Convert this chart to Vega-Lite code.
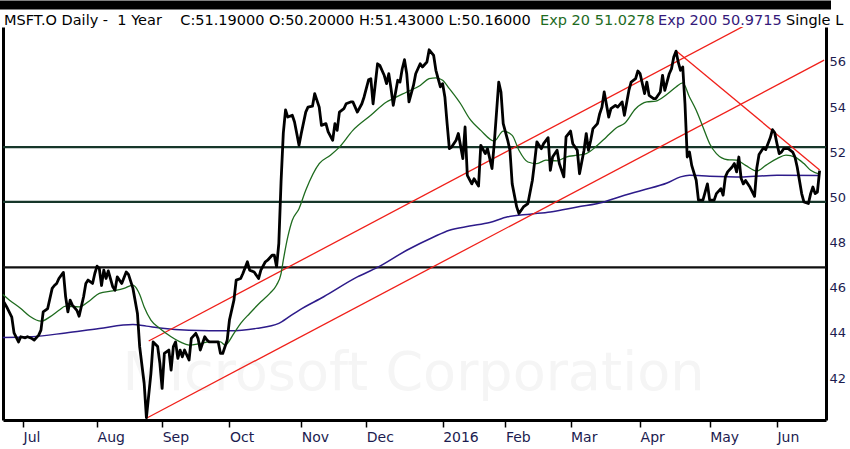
{
  "$schema": "https://vega.github.io/schema/vega-lite/v6.json",
  "description": "MSFT.O daily closing price over one year with 20 and 200 day exponential averages, trend channel and support levels.",
  "width": 823,
  "height": 393,
  "autosize": {"type": "none"},
  "padding": {"left": 3, "top": 27, "right": 24, "bottom": 29},
  "background": "white",
  "config": {
    "view": {"stroke": null},
    "font": "DejaVu Sans",
    "axis": {"grid": false, "title": null}
  },
  "datasets": {
    "price": [
      {"date": "2015-06-22", "close": 45.45}, {"date": "2015-06-24", "close": 45.10}, {"date": "2015-06-26", "close": 44.70},
      {"date": "2015-06-27", "close": 44.00}, {"date": "2015-06-29", "close": 43.60}, {"date": "2015-06-30", "close": 43.83},
      {"date": "2015-07-02", "close": 43.78}, {"date": "2015-07-03", "close": 43.83}, {"date": "2015-07-05", "close": 43.75},
      {"date": "2015-07-06", "close": 43.68}, {"date": "2015-07-08", "close": 43.90}, {"date": "2015-07-09", "close": 44.12},
      {"date": "2015-07-10", "close": 44.93}, {"date": "2015-07-12", "close": 45.08}, {"date": "2015-07-14", "close": 45.97},
      {"date": "2015-07-15", "close": 46.10}, {"date": "2015-07-16", "close": 46.19}, {"date": "2015-07-17", "close": 46.41},
      {"date": "2015-07-19", "close": 46.68}, {"date": "2015-07-20", "close": 45.60}, {"date": "2015-07-21", "close": 44.93},
      {"date": "2015-07-22", "close": 45.45}, {"date": "2015-07-23", "close": 45.23}, {"date": "2015-07-25", "close": 45.00},
      {"date": "2015-07-26", "close": 44.74}, {"date": "2015-07-28", "close": 45.60}, {"date": "2015-07-29", "close": 46.19},
      {"date": "2015-07-30", "close": 46.34}, {"date": "2015-08-01", "close": 46.19}, {"date": "2015-08-02", "close": 46.63},
      {"date": "2015-08-03", "close": 46.96}, {"date": "2015-08-04", "close": 46.85}, {"date": "2015-08-05", "close": 46.10},
      {"date": "2015-08-06", "close": 46.78}, {"date": "2015-08-07", "close": 46.41}, {"date": "2015-08-08", "close": 46.75},
      {"date": "2015-08-10", "close": 46.04}, {"date": "2015-08-11", "close": 45.89}, {"date": "2015-08-12", "close": 46.48},
      {"date": "2015-08-14", "close": 46.19}, {"date": "2015-08-16", "close": 46.70}, {"date": "2015-08-17", "close": 46.59},
      {"date": "2015-08-19", "close": 45.97}, {"date": "2015-08-21", "close": 44.86}, {"date": "2015-08-22", "close": 43.38},
      {"date": "2015-08-24", "close": 41.76}, {"date": "2015-08-25", "close": 40.25}, {"date": "2015-08-27", "close": 42.20},
      {"date": "2015-08-28", "close": 43.60}, {"date": "2015-08-30", "close": 43.40}, {"date": "2015-08-31", "close": 42.65},
      {"date": "2015-09-01", "close": 41.54}, {"date": "2015-09-02", "close": 43.09}, {"date": "2015-09-04", "close": 43.24},
      {"date": "2015-09-05", "close": 42.35}, {"date": "2015-09-06", "close": 43.39}, {"date": "2015-09-07", "close": 43.60},
      {"date": "2015-09-08", "close": 42.87}, {"date": "2015-09-09", "close": 43.24}, {"date": "2015-09-10", "close": 42.94},
      {"date": "2015-09-11", "close": 43.24}, {"date": "2015-09-13", "close": 42.80}, {"date": "2015-09-14", "close": 43.76},
      {"date": "2015-09-16", "close": 43.98}, {"date": "2015-09-17", "close": 43.76}, {"date": "2015-09-18", "close": 43.24},
      {"date": "2015-09-20", "close": 43.83}, {"date": "2015-09-21", "close": 43.68}, {"date": "2015-09-22", "close": 43.60},
      {"date": "2015-09-24", "close": 43.60}, {"date": "2015-09-26", "close": 43.60}, {"date": "2015-09-27", "close": 43.09},
      {"date": "2015-09-28", "close": 43.09}, {"date": "2015-09-30", "close": 43.68}, {"date": "2015-10-01", "close": 44.57},
      {"date": "2015-10-03", "close": 45.45}, {"date": "2015-10-04", "close": 46.34}, {"date": "2015-10-06", "close": 46.41},
      {"date": "2015-10-07", "close": 46.63}, {"date": "2015-10-09", "close": 47.15}, {"date": "2015-10-10", "close": 46.78},
      {"date": "2015-10-12", "close": 46.70}, {"date": "2015-10-14", "close": 46.41}, {"date": "2015-10-15", "close": 46.78},
      {"date": "2015-10-17", "close": 47.15}, {"date": "2015-10-18", "close": 47.22}, {"date": "2015-10-20", "close": 47.44},
      {"date": "2015-10-21", "close": 47.44}, {"date": "2015-10-22", "close": 46.93}, {"date": "2015-10-23", "close": 47.96},
      {"date": "2015-10-24", "close": 50.70}, {"date": "2015-10-25", "close": 52.85}, {"date": "2015-10-26", "close": 53.88},
      {"date": "2015-10-27", "close": 53.56}, {"date": "2015-10-29", "close": 53.64}, {"date": "2015-10-30", "close": 53.34},
      {"date": "2015-10-31", "close": 52.83}, {"date": "2015-11-01", "close": 52.31}, {"date": "2015-11-02", "close": 52.83},
      {"date": "2015-11-04", "close": 53.78}, {"date": "2015-11-05", "close": 54.00}, {"date": "2015-11-07", "close": 54.04},
      {"date": "2015-11-08", "close": 54.60}, {"date": "2015-11-10", "close": 54.00}, {"date": "2015-11-11", "close": 53.19},
      {"date": "2015-11-13", "close": 53.27}, {"date": "2015-11-14", "close": 52.90}, {"date": "2015-11-16", "close": 52.53},
      {"date": "2015-11-17", "close": 53.27}, {"date": "2015-11-18", "close": 52.97}, {"date": "2015-11-19", "close": 53.78},
      {"date": "2015-11-21", "close": 53.93}, {"date": "2015-11-22", "close": 54.15}, {"date": "2015-11-24", "close": 54.23},
      {"date": "2015-11-25", "close": 54.23}, {"date": "2015-11-27", "close": 53.78}, {"date": "2015-11-29", "close": 54.15},
      {"date": "2015-11-30", "close": 54.45}, {"date": "2015-12-02", "close": 55.21}, {"date": "2015-12-03", "close": 55.26},
      {"date": "2015-12-04", "close": 54.15}, {"date": "2015-12-06", "close": 55.92}, {"date": "2015-12-07", "close": 55.85},
      {"date": "2015-12-09", "close": 55.40}, {"date": "2015-12-10", "close": 55.04}, {"date": "2015-12-11", "close": 55.48},
      {"date": "2015-12-12", "close": 54.82}, {"date": "2015-12-13", "close": 54.08}, {"date": "2015-12-15", "close": 55.19},
      {"date": "2015-12-16", "close": 55.11}, {"date": "2015-12-17", "close": 55.70}, {"date": "2015-12-18", "close": 56.10},
      {"date": "2015-12-19", "close": 55.48}, {"date": "2015-12-20", "close": 54.23}, {"date": "2015-12-22", "close": 54.96},
      {"date": "2015-12-23", "close": 55.48}, {"date": "2015-12-25", "close": 55.92}, {"date": "2015-12-26", "close": 55.78},
      {"date": "2015-12-28", "close": 56.00}, {"date": "2015-12-29", "close": 56.54}, {"date": "2015-12-31", "close": 56.29},
      {"date": "2016-01-01", "close": 55.63}, {"date": "2016-01-03", "close": 54.90}, {"date": "2016-01-04", "close": 55.04},
      {"date": "2016-01-05", "close": 54.45}, {"date": "2016-01-06", "close": 53.27}, {"date": "2016-01-07", "close": 52.16},
      {"date": "2016-01-08", "close": 52.23}, {"date": "2016-01-10", "close": 52.53}, {"date": "2016-01-11", "close": 52.83},
      {"date": "2016-01-13", "close": 51.72}, {"date": "2016-01-14", "close": 53.12}, {"date": "2016-01-15", "close": 50.98},
      {"date": "2016-01-17", "close": 50.60}, {"date": "2016-01-18", "close": 50.83}, {"date": "2016-01-20", "close": 50.50},
      {"date": "2016-01-21", "close": 52.31}, {"date": "2016-01-23", "close": 51.94}, {"date": "2016-01-24", "close": 52.16},
      {"date": "2016-01-26", "close": 51.28}, {"date": "2016-01-27", "close": 52.38}, {"date": "2016-01-29", "close": 55.11},
      {"date": "2016-01-30", "close": 54.67}, {"date": "2016-01-31", "close": 53.27}, {"date": "2016-02-02", "close": 52.53},
      {"date": "2016-02-03", "close": 52.09}, {"date": "2016-02-04", "close": 50.60}, {"date": "2016-02-06", "close": 49.58},
      {"date": "2016-02-07", "close": 49.29}, {"date": "2016-02-09", "close": 49.58}, {"date": "2016-02-11", "close": 49.73},
      {"date": "2016-02-13", "close": 50.76}, {"date": "2016-02-14", "close": 51.57}, {"date": "2016-02-15", "close": 52.46},
      {"date": "2016-02-17", "close": 52.16}, {"date": "2016-02-18", "close": 52.38}, {"date": "2016-02-20", "close": 52.65},
      {"date": "2016-02-21", "close": 51.20}, {"date": "2016-02-22", "close": 51.79}, {"date": "2016-02-24", "close": 52.09},
      {"date": "2016-02-25", "close": 51.50}, {"date": "2016-02-27", "close": 50.91}, {"date": "2016-02-28", "close": 52.68},
      {"date": "2016-03-01", "close": 52.94}, {"date": "2016-03-02", "close": 52.38}, {"date": "2016-03-04", "close": 52.09},
      {"date": "2016-03-05", "close": 51.05}, {"date": "2016-03-07", "close": 52.09}, {"date": "2016-03-08", "close": 52.83},
      {"date": "2016-03-09", "close": 52.09}, {"date": "2016-03-10", "close": 52.53}, {"date": "2016-03-11", "close": 53.05},
      {"date": "2016-03-13", "close": 53.27}, {"date": "2016-03-14", "close": 53.71}, {"date": "2016-03-15", "close": 54.00},
      {"date": "2016-03-16", "close": 54.67}, {"date": "2016-03-18", "close": 53.56}, {"date": "2016-03-19", "close": 53.93},
      {"date": "2016-03-21", "close": 54.08}, {"date": "2016-03-22", "close": 54.00}, {"date": "2016-03-24", "close": 54.23},
      {"date": "2016-03-25", "close": 53.64}, {"date": "2016-03-27", "close": 54.74}, {"date": "2016-03-28", "close": 55.11},
      {"date": "2016-03-30", "close": 55.26}, {"date": "2016-03-31", "close": 55.60}, {"date": "2016-04-01", "close": 55.48},
      {"date": "2016-04-03", "close": 54.60}, {"date": "2016-04-04", "close": 55.11}, {"date": "2016-04-05", "close": 54.52},
      {"date": "2016-04-07", "close": 54.38}, {"date": "2016-04-08", "close": 54.38}, {"date": "2016-04-10", "close": 54.67},
      {"date": "2016-04-11", "close": 55.41}, {"date": "2016-04-12", "close": 54.74}, {"date": "2016-04-14", "close": 55.48},
      {"date": "2016-04-15", "close": 55.70}, {"date": "2016-04-16", "close": 56.22}, {"date": "2016-04-17", "close": 56.48},
      {"date": "2016-04-18", "close": 55.99}, {"date": "2016-04-19", "close": 55.63}, {"date": "2016-04-20", "close": 55.78},
      {"date": "2016-04-21", "close": 54.15}, {"date": "2016-04-22", "close": 51.79}, {"date": "2016-04-23", "close": 52.01},
      {"date": "2016-04-24", "close": 51.42}, {"date": "2016-04-26", "close": 50.76}, {"date": "2016-04-27", "close": 49.88},
      {"date": "2016-04-29", "close": 49.88}, {"date": "2016-05-01", "close": 50.60}, {"date": "2016-05-02", "close": 49.88},
      {"date": "2016-05-04", "close": 49.88}, {"date": "2016-05-05", "close": 50.17}, {"date": "2016-05-07", "close": 50.39},
      {"date": "2016-05-08", "close": 50.10}, {"date": "2016-05-09", "close": 50.91}, {"date": "2016-05-10", "close": 51.13},
      {"date": "2016-05-12", "close": 51.35}, {"date": "2016-05-13", "close": 51.50}, {"date": "2016-05-14", "close": 51.13},
      {"date": "2016-05-15", "close": 51.79}, {"date": "2016-05-16", "close": 50.85}, {"date": "2016-05-17", "close": 50.60},
      {"date": "2016-05-18", "close": 50.75}, {"date": "2016-05-20", "close": 50.45}, {"date": "2016-05-22", "close": 50.05},
      {"date": "2016-05-23", "close": 51.30}, {"date": "2016-05-24", "close": 51.90}, {"date": "2016-05-26", "close": 52.20},
      {"date": "2016-05-27", "close": 52.12}, {"date": "2016-05-29", "close": 52.64}, {"date": "2016-05-30", "close": 53.00},
      {"date": "2016-05-31", "close": 52.86}, {"date": "2016-06-01", "close": 52.38}, {"date": "2016-06-02", "close": 51.94},
      {"date": "2016-06-03", "close": 52.01}, {"date": "2016-06-04", "close": 52.16}, {"date": "2016-06-06", "close": 52.16},
      {"date": "2016-06-08", "close": 52.01}, {"date": "2016-06-09", "close": 51.79}, {"date": "2016-06-10", "close": 51.35},
      {"date": "2016-06-11", "close": 50.76}, {"date": "2016-06-12", "close": 50.17}, {"date": "2016-06-13", "close": 49.80},
      {"date": "2016-06-15", "close": 49.73}, {"date": "2016-06-16", "close": 50.17}, {"date": "2016-06-17", "close": 50.46},
      {"date": "2016-06-18", "close": 50.17}, {"date": "2016-06-19", "close": 50.24}, {"date": "2016-06-20", "close": 51.19}
    ],
    "ema20": [
      {"date": "2015-06-22", "value": 45.70}, {"date": "2015-06-25", "value": 45.45}, {"date": "2015-06-30", "value": 45.08},
      {"date": "2015-07-04", "value": 44.74}, {"date": "2015-07-09", "value": 44.52}, {"date": "2015-07-13", "value": 44.71},
      {"date": "2015-07-17", "value": 45.00}, {"date": "2015-07-20", "value": 45.19}, {"date": "2015-07-26", "value": 45.15},
      {"date": "2015-07-31", "value": 45.45}, {"date": "2015-08-04", "value": 45.75}, {"date": "2015-08-10", "value": 45.86},
      {"date": "2015-08-15", "value": 45.97}, {"date": "2015-08-19", "value": 46.12}, {"date": "2015-08-20", "value": 46.05},
      {"date": "2015-08-22", "value": 45.70}, {"date": "2015-08-24", "value": 45.15}, {"date": "2015-08-27", "value": 44.57},
      {"date": "2015-08-31", "value": 44.20}, {"date": "2015-09-05", "value": 43.83}, {"date": "2015-09-09", "value": 43.60},
      {"date": "2015-09-13", "value": 43.46}, {"date": "2015-09-18", "value": 43.53}, {"date": "2015-09-22", "value": 43.60},
      {"date": "2015-09-27", "value": 43.60}, {"date": "2015-09-29", "value": 43.46}, {"date": "2015-10-03", "value": 43.98},
      {"date": "2015-10-06", "value": 44.42}, {"date": "2015-10-10", "value": 44.86}, {"date": "2015-10-15", "value": 45.38},
      {"date": "2015-10-19", "value": 45.75}, {"date": "2015-10-22", "value": 46.12}, {"date": "2015-10-24", "value": 46.63},
      {"date": "2015-10-25", "value": 47.22}, {"date": "2015-10-27", "value": 48.25}, {"date": "2015-10-29", "value": 48.99},
      {"date": "2015-11-01", "value": 49.50}, {"date": "2015-11-04", "value": 50.32}, {"date": "2015-11-10", "value": 51.50},
      {"date": "2015-11-15", "value": 51.87}, {"date": "2015-11-19", "value": 52.23}, {"date": "2015-11-25", "value": 52.97},
      {"date": "2015-12-03", "value": 53.64}, {"date": "2015-12-10", "value": 54.23}, {"date": "2015-12-13", "value": 54.38},
      {"date": "2015-12-19", "value": 54.67}, {"date": "2015-12-25", "value": 54.96}, {"date": "2015-12-29", "value": 55.26},
      {"date": "2016-01-01", "value": 55.30}, {"date": "2016-01-04", "value": 55.19}, {"date": "2016-01-07", "value": 54.82},
      {"date": "2016-01-12", "value": 54.15}, {"date": "2016-01-16", "value": 53.49}, {"date": "2016-01-21", "value": 52.97},
      {"date": "2016-01-27", "value": 52.50}, {"date": "2016-01-31", "value": 52.94}, {"date": "2016-02-04", "value": 52.75},
      {"date": "2016-02-07", "value": 52.09}, {"date": "2016-02-11", "value": 51.57}, {"date": "2016-02-15", "value": 51.50},
      {"date": "2016-02-19", "value": 51.65}, {"date": "2016-02-24", "value": 51.62}, {"date": "2016-02-28", "value": 51.79},
      {"date": "2016-03-04", "value": 51.87}, {"date": "2016-03-08", "value": 51.94}, {"date": "2016-03-13", "value": 52.31},
      {"date": "2016-03-17", "value": 52.68}, {"date": "2016-03-22", "value": 53.12}, {"date": "2016-03-25", "value": 53.27},
      {"date": "2016-03-30", "value": 53.93}, {"date": "2016-04-04", "value": 54.23}, {"date": "2016-04-08", "value": 54.27},
      {"date": "2016-04-13", "value": 54.57}, {"date": "2016-04-17", "value": 54.89}, {"date": "2016-04-20", "value": 55.07},
      {"date": "2016-04-23", "value": 54.45}, {"date": "2016-04-26", "value": 53.86}, {"date": "2016-04-29", "value": 53.12},
      {"date": "2016-05-02", "value": 52.38}, {"date": "2016-05-05", "value": 51.94}, {"date": "2016-05-10", "value": 51.67},
      {"date": "2016-05-14", "value": 51.65}, {"date": "2016-05-18", "value": 51.42}, {"date": "2016-05-23", "value": 51.17},
      {"date": "2016-05-27", "value": 51.42}, {"date": "2016-06-01", "value": 51.72}, {"date": "2016-06-05", "value": 51.87},
      {"date": "2016-06-09", "value": 51.79}, {"date": "2016-06-13", "value": 51.50}, {"date": "2016-06-16", "value": 51.20},
      {"date": "2016-06-20", "value": 51.03}
    ],
    "ema200": [
      {"date": "2015-06-22", "value": 43.80}, {"date": "2015-07-05", "value": 43.83}, {"date": "2015-07-20", "value": 44.00},
      {"date": "2015-08-04", "value": 44.20}, {"date": "2015-08-19", "value": 44.37}, {"date": "2015-08-25", "value": 44.30},
      {"date": "2015-08-31", "value": 44.22}, {"date": "2015-09-13", "value": 44.12}, {"date": "2015-10-01", "value": 44.09},
      {"date": "2015-10-13", "value": 44.20}, {"date": "2015-10-23", "value": 44.42}, {"date": "2015-10-28", "value": 44.74},
      {"date": "2015-11-01", "value": 45.00}, {"date": "2015-11-12", "value": 45.60}, {"date": "2015-11-27", "value": 46.48},
      {"date": "2015-12-06", "value": 46.90}, {"date": "2015-12-19", "value": 47.66}, {"date": "2015-12-31", "value": 48.25},
      {"date": "2016-01-07", "value": 48.55}, {"date": "2016-01-16", "value": 48.73}, {"date": "2016-01-25", "value": 48.89},
      {"date": "2016-02-02", "value": 49.14}, {"date": "2016-02-12", "value": 49.26}, {"date": "2016-02-21", "value": 49.36},
      {"date": "2016-03-04", "value": 49.58}, {"date": "2016-03-16", "value": 49.80}, {"date": "2016-03-22", "value": 50.00},
      {"date": "2016-04-02", "value": 50.32}, {"date": "2016-04-13", "value": 50.64}, {"date": "2016-04-19", "value": 50.91},
      {"date": "2016-04-23", "value": 50.98}, {"date": "2016-05-02", "value": 50.94}, {"date": "2016-05-17", "value": 50.91},
      {"date": "2016-06-01", "value": 50.98}, {"date": "2016-06-20", "value": 50.97}
    ],
    "trend": [
      {"line": "channel top", "date": "2015-08-26", "value": 43.64},
      {"line": "channel top", "date": "2016-05-25", "value": 58.00},
      {"line": "channel bottom", "date": "2015-08-25", "value": 40.22},
      {"line": "channel bottom", "date": "2016-06-22", "value": 56.08},
      {"line": "downtrend", "date": "2016-04-17", "value": 56.50},
      {"line": "downtrend", "date": "2016-06-20", "value": 51.22}
    ],
    "levels": [
      {"kind": "resistance", "level": 52.23},
      {"kind": "support", "level": 49.80},
      {"kind": "old resistance", "level": 46.90}
    ],
    "note": [{}]
  },
  "layer": [
    {
      "data": {"name": "note"},
      "mark": {"type": "text", "text": "Microsoft Corporation", "fontSize": 54, "color": "#f5f5f5", "align": "center", "baseline": "alphabetic"},
      "encoding": {
        "x": {"datum": {"year": 2015, "month": 12, "date": 22, "utc": true}, "type": "temporal", "axis": null},
        "y": {"datum": 41.47, "type": "quantitative", "axis": null}
      }
    },
    {
      "data": {"name": "levels"},
      "mark": {"type": "rule"},
      "encoding": {
        "y": {"field": "level", "type": "quantitative", "axis": null},
        "color": {"field": "kind", "type": "nominal", "legend": null,
          "scale": {"domain": ["resistance", "support", "old resistance"], "range": ["#16362a", "#16362a", "#111111"]}},
        "strokeWidth": {"field": "kind", "type": "nominal", "legend": null,
          "scale": {"domain": ["resistance", "support", "old resistance"], "range": [2.2, 2.2, 1.6]}}
      }
    },
    {
      "data": {"name": "ema200"},
      "mark": {"type": "line", "color": "#2d1b8a", "strokeWidth": 1.5, "interpolate": "monotone"},
      "encoding": {
        "x": {"field": "date", "type": "temporal",
          "axis": {"orient": "top", "labels": false, "ticks": false, "domainColor": "black", "domainWidth": 9, "domainCap": "square", "offset": 22.5}},
        "y": {"field": "value", "type": "quantitative",
          "axis": {"orient": "left", "labels": false, "ticks": false, "domainColor": "black", "domainWidth": 3}}
      }
    },
    {
      "data": {"name": "trend"},
      "mark": {"type": "line", "color": "#f0201a", "strokeWidth": 1.3, "clip": true},
      "encoding": {
        "x": {"field": "date", "type": "temporal", "axis": null},
        "y": {"field": "value", "type": "quantitative", "axis": null},
        "detail": {"field": "line", "type": "nominal"}
      }
    },
    {
      "data": {"name": "ema20"},
      "mark": {"type": "line", "color": "#1e6b1e", "strokeWidth": 1.3, "interpolate": "monotone"},
      "encoding": {
        "x": {"field": "date", "type": "temporal", "axis": null},
        "y": {"field": "value", "type": "quantitative", "axis": null}
      }
    },
    {
      "data": {"name": "price"},
      "mark": {"type": "line", "color": "black", "strokeWidth": 2.8, "strokeJoin": "round", "clip": true},
      "encoding": {
        "x": {
          "field": "date", "type": "temporal",
          "scale": {"type": "utc", "domain": [
            {"year": 2015, "month": 6, "date": 22, "hours": 2, "minutes": 5, "utc": true},
            {"year": 2016, "month": 6, "date": 22, "hours": 20, "minutes": 10, "utc": true}]},
          "axis": {
            "orient": "bottom",
            "values": [
              {"year": 2015, "month": 7, "date": 1, "utc": true}, {"year": 2015, "month": 8, "date": 3, "utc": true},
              {"year": 2015, "month": 9, "date": 1, "utc": true}, {"year": 2015, "month": 10, "date": 1, "utc": true},
              {"year": 2015, "month": 11, "date": 2, "utc": true}, {"year": 2015, "month": 12, "date": 1, "utc": true},
              {"year": 2016, "month": 1, "date": 4, "utc": true}, {"year": 2016, "month": 2, "date": 1, "utc": true},
              {"year": 2016, "month": 3, "date": 1, "utc": true}, {"year": 2016, "month": 4, "date": 1, "utc": true},
              {"year": 2016, "month": 5, "date": 2, "utc": true}, {"year": 2016, "month": 6, "date": 1, "utc": true}],
            "labelExpr": "utcmonth(datum.value) == 0 ? '2016' : utcFormat(datum.value, '%b')",
            "labelAlign": "left", "labelOffset": 0, "labelPadding": 3, "labelFontSize": 14, "labelColor": "#1c1c50",
            "labelFont": "DejaVu Sans", "labelFlush": false, "labelOverlap": false,
            "tickSize": 7, "tickColor": "black", "tickWidth": 1.5,
            "domainColor": "black", "domainWidth": 3
          }
        },
        "y": {
          "field": "close", "type": "quantitative",
          "scale": {"domain": [40.142, 57.549], "nice": false, "zero": false},
          "axis": {
            "orient": "right", "values": [42, 44, 46, 48, 50, 52, 54, 56],
            "ticks": false, "labelPadding": 3, "labelFontSize": 13, "labelColor": "#1c1c50", "labelFont": "DejaVu Sans",
            "labelFlush": false, "domainColor": "black", "domainWidth": 3
          }
        }
      }
    },
    {
      "data": {"name": "note"},
      "mark": {"type": "text", "text": "MSFT.O Daily -\u00a0 1 Year\u00a0\u00a0\u00a0 C:51.19000 O:50.20000 H:51.43000 L:50.16000", "fontSize": 14.5, "color": "black", "align": "left", "baseline": "alphabetic", "clip": false},
      "encoding": {
        "x": {"datum": {"year": 2015, "month": 6, "date": 22, "hours": 12, "minutes": 45, "utc": true}, "type": "temporal", "axis": null},
        "y": {"datum": 57.64, "type": "quantitative", "axis": null}
      }
    },
    {
      "data": {"name": "note"},
      "mark": {"type": "text", "text": "Exp 20 51.0278", "fontSize": 14.5, "color": "#1e6b1e", "align": "left", "baseline": "alphabetic", "clip": false},
      "encoding": {
        "x": {"datum": {"year": 2016, "month": 2, "date": 16, "hours": 10, "utc": true}, "type": "temporal", "axis": null},
        "y": {"datum": 57.64, "type": "quantitative", "axis": null}
      }
    },
    {
      "data": {"name": "note"},
      "mark": {"type": "text", "text": "Exp 200 50.9715", "fontSize": 14.5, "color": "#35197a", "align": "left", "baseline": "alphabetic", "clip": false},
      "encoding": {
        "x": {"datum": {"year": 2016, "month": 4, "date": 8, "hours": 23, "utc": true}, "type": "temporal", "axis": null},
        "y": {"datum": 57.64, "type": "quantitative", "axis": null}
      }
    },
    {
      "data": {"name": "note"},
      "mark": {"type": "text", "text": "Single L", "fontSize": 14.5, "color": "black", "align": "left", "baseline": "alphabetic", "clip": false},
      "encoding": {
        "x": {"datum": {"year": 2016, "month": 6, "date": 5, "utc": true}, "type": "temporal", "axis": null},
        "y": {"datum": 57.64, "type": "quantitative", "axis": null}
      }
    }
  ],
  "resolve": {"axis": {"x": "independent", "y": "independent"}}
}
